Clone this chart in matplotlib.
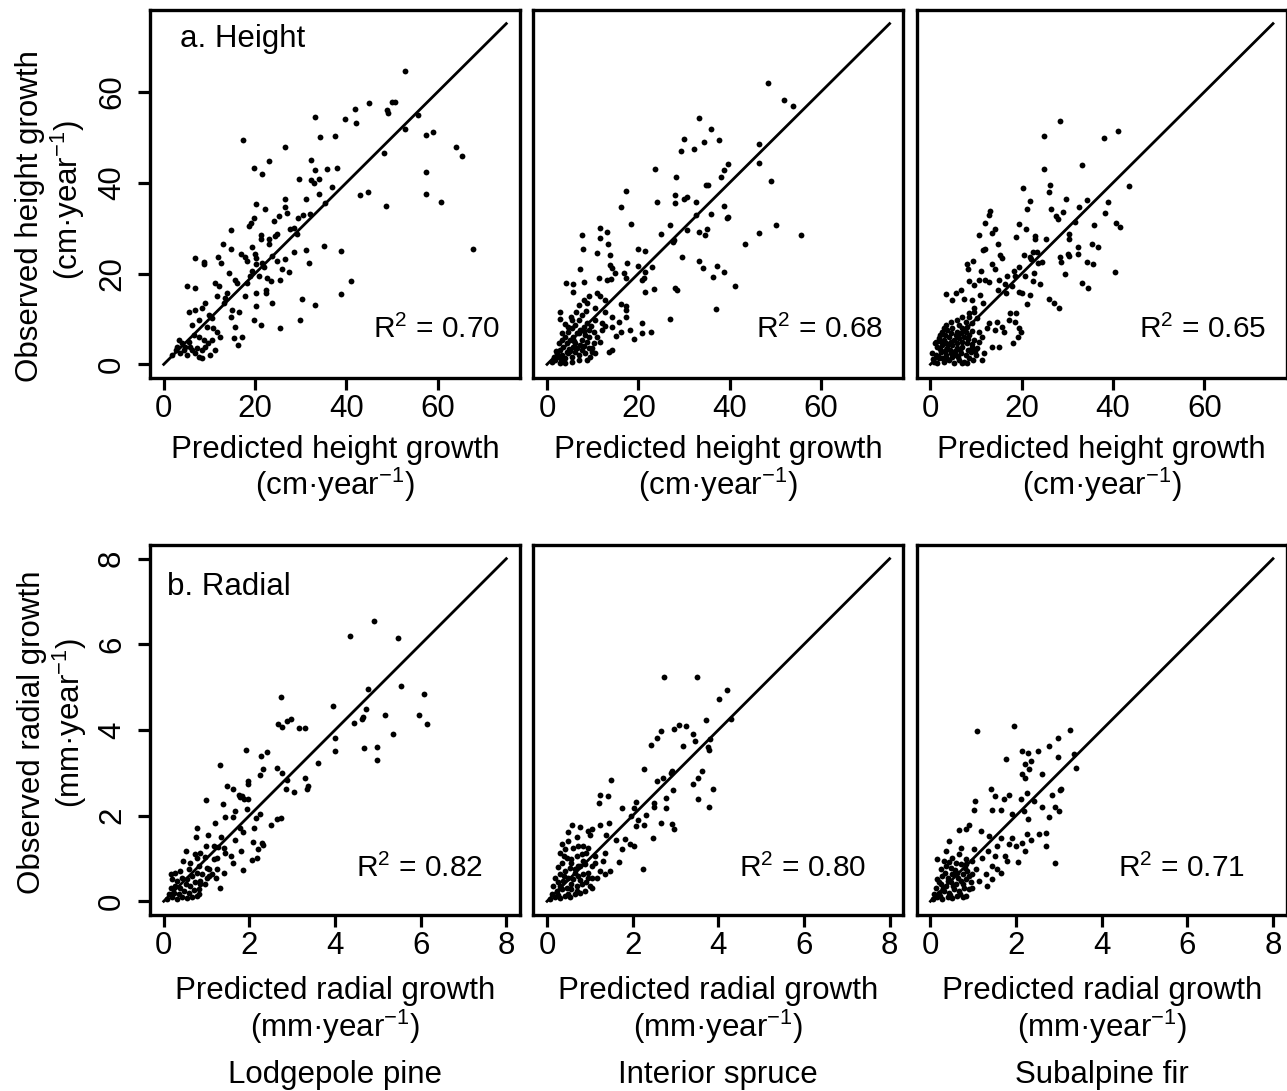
import numpy as np
import matplotlib
matplotlib.use("Agg")
import matplotlib.pyplot as plt

plt.rcParams['font.family'] = ['Liberation Sans', 'DejaVu Sans']
plt.rcParams['mathtext.fontset'] = 'custom'
plt.rcParams['mathtext.rm'] = 'Liberation Sans'
plt.rcParams['mathtext.default'] = 'regular'

species = ['Lodgepole pine', 'Interior spruce', 'Subalpine fir']
r2_height = ['0.70', '0.68', '0.65']
r2_radial = ['0.82', '0.80', '0.71']
height_ticks = [0, 20, 40, 60]
radial_ticks = [0, 2, 4, 6, 8]

# (predicted, observed) height growth, cm/year
pine_height = [
    (52.9, 64.5), (45.0, 57.6), (50.0, 57.8), (50.7, 57.8), (41.8, 56.1), (48.9, 55.9), (49.1, 55.3),
    (33.2, 54.5), (39.6, 53.9), (42.0, 53.1), (55.6, 54.9), (52.9, 51.7), (57.4, 50.5), (58.9, 51.2),
    (34.3, 50.0), (37.4, 50.3), (17.4, 49.4), (26.6, 47.8), (48.3, 46.6), (64.0, 47.8), (65.3, 45.9),
    (23.0, 44.7), (32.3, 45.0), (19.8, 43.3), (21.5, 41.9), (33.2, 42.7), (33.9, 40.9), (32.3, 40.6),
    (32.8, 40.0), (35.8, 43.0), (38.0, 43.3), (29.7, 40.8), (36.9, 39.1), (33.9, 37.4), (42.9, 37.3),
    (44.7, 38.0), (57.4, 42.4), (57.4, 37.5), (60.8, 35.7), (48.7, 34.9), (20.3, 35.4), (22.1, 34.1),
    (26.5, 36.5), (26.6, 34.6), (27.0, 33.4), (31.2, 36.3), (35.4, 35.6), (30.4, 32.8), (29.4, 32.2),
    (32.1, 33.0), (19.7, 32.3), (19.2, 31.2), (18.6, 30.4), (24.2, 31.5), (25.2, 32.6), (27.7, 29.8),
    (28.6, 30.1), (29.2, 28.6), (21.2, 28.4), (21.2, 27.5), (23.0, 27.5), (23.1, 26.6), (24.7, 28.6),
    (24.3, 28.2), (14.7, 29.5), (13.0, 26.4), (14.8, 25.3), (17.0, 24.2), (19.3, 25.9), (19.9, 24.3),
    (20.1, 23.4), (23.7, 23.8), (28.6, 24.7), (31.2, 25.1), (35.2, 26.0), (38.8, 24.9), (6.9, 23.4),
    (8.9, 22.5), (8.9, 22.0), (11.8, 23.7), (12.6, 22.3), (17.9, 23.7), (18.2, 22.7), (20.1, 22.0),
    (21.5, 22.3), (21.9, 21.4), (24.8, 22.7), (26.6, 23.1), (31.9, 22.3), (25.9, 20.9), (27.4, 20.3),
    (14.2, 20.1), (20.8, 19.4), (22.7, 19.0), (23.4, 18.3), (15.7, 18.6), (16.1, 17.9), (19.3, 20.5),
    (19.0, 19.4), (18.2, 17.9), (25.4, 18.5), (40.9, 18.3), (38.8, 15.5), (30.3, 14.4), (33.2, 13.0),
    (29.8, 9.7), (25.5, 7.9), (20.1, 12.9), (21.2, 8.7), (19.7, 9.7), (23.6, 13.5), (22.5, 16.4),
    (22.3, 15.7), (17.9, 15.0), (20.1, 15.7), (67.7, 25.5), (5.0, 17.3), (6.9, 16.8), (11.3, 17.9),
    (12.2, 17.2), (11.7, 15.0), (13.9, 15.7), (13.5, 14.6), (13.1, 13.5), (15.0, 12.0), (14.8, 10.5),
    (15.7, 8.3), (16.4, 11.6), (17.2, 6.1), (15.3, 5.7), (16.3, 4.3), (9.1, 13.5), (8.4, 12.4),
    (9.9, 10.9), (10.6, 10.2), (5.5, 11.6), (6.9, 12.0), (7.7, 9.8), (6.2, 8.7), (9.5, 8.3),
    (10.9, 8.0), (11.7, 7.2), (12.4, 6.1), (10.6, 5.4), (11.3, 3.2), (10.2, 2.1), (8.4, 1.3),
    (3.3, 5.4), (4.0, 4.6), (4.7, 3.9), (5.5, 5.0), (6.2, 3.2), (6.9, 2.4), (7.7, 1.7), (2.6, 3.2),
    (3.6, 2.4), (5.1, 2.1), (6.6, 6.5), (7.7, 6.1), (8.8, 5.4), (9.8, 4.6), (1.8, 2.1), (2.9, 3.9),
    (4.4, 3.2), (5.8, 3.9), (7.3, 3.5), (8.4, 3.2), (9.1, 3.9),
]

spruce_height = [
    (48.4, 62.0), (51.9, 58.1), (53.9, 56.8), (33.3, 54.2), (36.0, 51.7), (30.0, 49.6), (34.3, 48.9),
    (37.6, 49.4), (29.4, 46.9), (32.1, 47.4), (46.5, 48.5), (46.5, 44.4), (39.6, 44.1), (38.7, 42.8),
    (38.2, 41.3), (23.6, 43.1), (28.2, 41.3), (34.9, 39.5), (35.2, 39.5), (49.1, 40.4), (17.2, 38.2),
    (28.0, 37.2), (28.1, 35.6), (29.9, 36.5), (30.7, 36.9), (24.1, 35.7), (32.7, 35.7), (16.3, 34.6),
    (38.8, 34.9), (39.6, 32.5), (39.3, 32.3), (35.9, 33.2), (32.6, 32.8), (18.3, 30.9), (27.0, 30.7),
    (25.0, 28.6), (30.6, 29.6), (33.2, 29.2), (34.5, 28.5), (35.0, 29.8), (27.8, 27.3), (27.6, 27.0),
    (50.1, 30.6), (46.5, 29.0), (55.5, 28.5), (43.4, 26.6), (11.7, 30.1), (13.1, 29.2), (11.7, 27.9),
    (13.4, 26.6), (7.7, 28.4), (7.9, 25.4), (10.9, 24.5), (13.9, 24.0), (13.7, 21.8), (14.2, 21.2),
    (7.3, 21.0), (17.5, 22.3), (19.9, 25.4), (21.5, 24.9), (19.9, 21.7), (23.0, 21.4), (21.5, 20.3),
    (29.6, 23.7), (33.2, 22.7), (34.2, 21.2), (37.2, 21.7), (38.7, 20.3), (36.3, 19.2), (41.1, 17.3),
    (36.9, 12.2), (27.0, 9.9), (28.1, 16.9), (28.5, 16.3), (23.4, 16.6), (21.5, 15.9), (21.2, 19.0),
    (20.8, 18.6), (16.8, 20.1), (17.2, 19.0), (14.9, 20.1), (14.1, 18.8), (13.1, 18.6), (11.3, 19.0),
    (8.0, 18.1), (5.8, 17.8), (4.2, 17.9), (5.8, 15.9), (10.9, 15.8), (11.7, 15.0), (9.3, 15.0),
    (12.8, 14.2), (16.1, 13.3), (17.2, 12.9), (17.2, 11.9), (17.3, 10.5), (20.8, 9.2), (20.8, 7.0),
    (22.7, 7.2), (19.0, 5.5), (18.2, 7.6), (15.1, 6.3), (14.2, 3.2), (13.5, 2.8), (2.9, 11.5),
    (2.9, 9.9), (5.5, 9.8), (6.9, 13.1), (8.0, 14.2), (8.8, 13.5), (10.6, 12.4), (12.8, 11.6),
    (14.2, 10.5), (15.7, 9.4), (12.8, 8.5), (10.6, 9.8), (12.0, 9.1), (14.2, 8.3), (16.1, 7.2),
    (12.0, 7.6), (1.8, 1.0), (2.6, 1.7), (3.3, 2.1), (4.0, 1.3), (4.7, 2.4), (5.5, 1.7), (6.2, 2.8),
    (6.9, 2.1), (7.7, 3.2), (8.4, 2.4), (9.1, 3.5), (9.9, 2.8), (1.1, 0.6), (2.2, 2.4), (2.9, 3.2),
    (3.6, 3.9), (4.4, 4.6), (5.1, 5.4), (5.8, 6.1), (6.6, 6.9), (7.3, 7.6), (8.0, 8.3), (8.8, 9.1),
    (3.3, 5.4), (4.0, 6.1), (4.7, 7.2), (5.5, 8.0), (6.2, 8.7), (6.9, 9.8), (7.7, 10.9), (2.6, 4.6),
    (3.3, 6.9), (4.7, 8.3), (6.2, 4.6), (7.7, 5.4), (9.1, 6.1), (10.2, 4.6), (10.6, 2.4), (9.5, 1.7),
    (8.8, 1.0), (6.9, 1.0), (5.5, 0.6), (4.0, 0.4), (2.9, 0.4), (1.5, 1.7), (4.4, 2.8), (5.8, 3.9),
    (7.3, 4.3), (8.8, 5.0), (10.2, 7.2), (10.9, 6.1), (11.7, 5.0), (9.1, 7.6), (8.4, 6.5),
    (2.0, 3.0), (3.0, 1.2), (4.8, 3.3), (6.0, 5.2), (7.0, 6.8), (8.2, 7.4), (9.6, 8.5), (4.0, 8.9),
    (5.2, 10.5), (6.4, 11.5), (8.5, 11.8), (3.6, 1.0), (5.0, 3.0), (6.6, 3.6), (8.1, 4.0), (9.8, 3.6),
]

fir_height = [
    (28.3, 53.6), (24.9, 50.3), (38.0, 49.9), (41.1, 51.3), (24.9, 43.1), (33.2, 43.8), (43.4, 39.2),
    (20.3, 38.8), (26.1, 39.4), (25.9, 37.9), (21.7, 36.0), (21.2, 34.3), (29.6, 36.3), (29.0, 33.6),
    (27.4, 32.6), (27.9, 31.9), (26.3, 34.1), (32.5, 34.6), (34.3, 36.2), (38.8, 35.7), (38.2, 33.4),
    (31.6, 31.4), (40.7, 31.2), (41.6, 30.3), (35.9, 30.6), (13.1, 33.8), (12.8, 32.8), (11.9, 31.2),
    (19.5, 30.9), (20.9, 29.8), (14.1, 29.8), (13.5, 29.0), (10.7, 28.4), (18.8, 28.1), (22.8, 28.2),
    (22.8, 27.5), (25.4, 27.7), (30.3, 28.6), (30.3, 27.5), (35.4, 26.6), (36.7, 25.9), (32.3, 25.9),
    (14.8, 26.5), (11.9, 25.4), (11.5, 25.1), (15.3, 24.0), (15.6, 23.4), (20.5, 24.0), (22.5, 24.7),
    (23.3, 24.7), (28.3, 23.7), (28.5, 22.5), (30.2, 24.4), (30.3, 23.8), (32.4, 24.2), (21.8, 23.6),
    (22.1, 23.2), (23.6, 22.3), (24.5, 22.5), (34.2, 22.5), (35.5, 22.0), (40.4, 20.4), (29.4, 19.9),
    (33.1, 17.9), (34.5, 16.8), (9.4, 22.7), (8.0, 22.0), (8.2, 21.0), (11.0, 20.5), (13.5, 22.2),
    (14.2, 20.9), (16.8, 19.4), (15.1, 18.5), (16.4, 17.8), (18.2, 20.5), (18.5, 19.5), (19.4, 21.4),
    (20.8, 19.4), (22.6, 20.1), (22.4, 18.3), (24.1, 17.8), (8.5, 18.3), (9.5, 17.5), (10.6, 18.5),
    (11.9, 18.6), (12.8, 18.1), (14.8, 16.4), (16.6, 15.8), (17.9, 17.2), (19.3, 16.0), (20.1, 15.7),
    (21.9, 15.3), (21.1, 13.3), (25.9, 14.4), (27.0, 13.5), (28.1, 12.4), (3.4, 15.5), (5.5, 15.6),
    (6.6, 16.4), (4.8, 14.2), (7.3, 14.4), (9.1, 14.2), (10.9, 15.3), (11.5, 13.5), (17.5, 11.3),
    (18.8, 11.3), (17.3, 9.8), (14.6, 9.4), (15.7, 8.3), (14.2, 7.6), (16.1, 7.2), (18.6, 9.4),
    (19.3, 8.0), (19.9, 7.2), (19.2, 6.1), (13.5, 3.9), (15.1, 3.9), (18.0, 4.6), (10.6, 7.2),
    (11.3, 6.1), (12.4, 8.0), (12.8, 9.1), (9.5, 12.4), (8.4, 11.3), (10.2, 10.2), (7.7, 9.4),
    (0.8, 0.6), (1.9, 1.3), (3.0, 0.6), (4.1, 1.0), (5.2, 0.4), (6.3, 1.0), (7.4, 0.6), (8.5, 1.3),
    (7.0, 0.2), (1.2, 2.1), (2.3, 2.8), (3.4, 2.1), (4.5, 2.4), (5.5, 2.1), (6.6, 2.4), (7.7, 2.1),
    (8.8, 2.8), (9.9, 2.1), (1.5, 3.9), (2.6, 4.3), (3.7, 3.5), (4.8, 4.3), (5.9, 3.5), (7.0, 3.9),
    (8.1, 4.6), (9.2, 3.9), (10.3, 3.5), (1.9, 5.7), (3.0, 5.4), (4.1, 6.1), (5.2, 5.4), (6.3, 5.7),
    (7.4, 6.1), (8.5, 6.5), (9.6, 5.4), (10.7, 5.0), (2.6, 7.2), (3.7, 7.6), (4.8, 8.0), (5.9, 7.2),
    (7.0, 8.0), (8.1, 8.3), (9.2, 9.1), (4.5, 9.4), (5.9, 9.8), (7.0, 10.5), (8.5, 10.5), (9.6, 11.6),
    (3.4, 8.7), (11.8, 2.4), (11.4, 1.0), (0.4, 2.4), (1.2, 5.0),
    (0.5, 1.2), (1.4, 0.3), (2.5, 1.5), (3.6, 1.2), (4.7, 1.6), (6.0, 1.6), (8.0, 0.4), (9.3, 1.0),
    (2.0, 3.3), (3.2, 3.0), (4.2, 3.2), (5.3, 3.0), (6.4, 3.1), (8.3, 3.2), (9.7, 3.0), (1.0, 4.6),
    (2.2, 5.1), (3.5, 4.7), (4.6, 5.0), (5.8, 4.6), (7.0, 5.0), (8.2, 5.5), (9.0, 4.5), (2.0, 6.4),
    (3.3, 6.5), (4.4, 7.0), (5.6, 6.5), (6.8, 6.8), (7.8, 7.2), (9.0, 7.3), (3.0, 8.0), (6.3, 8.6),
]

# (predicted, observed) radial growth, mm/year
pine_radial = [
    (4.92, 6.55), (4.36, 6.19), (5.48, 6.16), (4.76, 4.96), (5.54, 5.02), (6.08, 4.83), (2.75, 4.76),
    (3.95, 4.56), (4.72, 4.49), (4.66, 4.31), (4.62, 4.26), (4.44, 4.16), (5.17, 4.34), (5.97, 4.36),
    (6.14, 4.13), (5.35, 3.91), (2.68, 4.14), (2.77, 4.08), (2.88, 4.22), (2.97, 4.26), (3.17, 4.04),
    (3.29, 4.04), (3.99, 3.82), (4.00, 3.52), (4.67, 3.57), (4.99, 3.60), (4.97, 3.31), (3.60, 3.22),
    (1.92, 3.53), (2.27, 3.40), (2.42, 3.49), (1.31, 3.19), (2.32, 3.08), (2.64, 3.12), (2.76, 3.00),
    (2.24, 2.94), (2.88, 2.83), (2.86, 2.63), (3.05, 2.56), (3.29, 2.87), (3.38, 2.69), (3.34, 2.63),
    (1.48, 2.70), (1.61, 2.63), (1.98, 2.81), (1.97, 2.75), (1.76, 2.48), (1.83, 2.46), (1.87, 2.38),
    (1.79, 2.43), (1.98, 2.40), (1.94, 2.16), (1.38, 2.28), (0.99, 2.36), (1.66, 2.12), (1.62, 1.98),
    (1.42, 1.97), (2.25, 2.04), (2.15, 1.95), (2.64, 1.93), (2.74, 1.95), (2.51, 1.79), (1.19, 1.83),
    (1.79, 1.70), (1.84, 1.62), (2.10, 1.70), (0.78, 1.72), (0.76, 1.51), (1.03, 1.54), (1.34, 1.51),
    (1.67, 1.43), (2.08, 1.38), (2.29, 1.37), (2.33, 1.31), (0.99, 1.29), (1.17, 1.29), (1.27, 1.27),
    (1.40, 1.25), (1.44, 1.13), (0.51, 1.17), (0.72, 1.10), (0.84, 1.13), (1.58, 1.06), (1.80, 1.17),
    (2.21, 1.21), (2.19, 1.00), (2.06, 0.96), (0.44, 0.94), (0.62, 0.90), (0.78, 1.02), (0.97, 1.03),
    (1.17, 0.98), (1.24, 1.02), (1.62, 0.89), (1.01, 0.77), (1.06, 0.75), (1.24, 0.75), (1.40, 0.67),
    (1.86, 0.72), (1.23, 0.54), (1.32, 0.32), (0.85, 0.40), (0.82, 0.16),
    (0.08, 0.05), (0.19, 0.09), (0.31, 0.05), (0.43, 0.10), (0.54, 0.07), (0.66, 0.09), (0.78, 0.12),
    (0.12, 0.16), (0.23, 0.20), (0.35, 0.18), (0.47, 0.24), (0.58, 0.20), (0.70, 0.26), (0.82, 0.28),
    (0.16, 0.32), (0.27, 0.36), (0.39, 0.32), (0.51, 0.40), (0.62, 0.36), (0.74, 0.44), (0.85, 0.47),
    (0.97, 0.40), (0.19, 0.51), (0.31, 0.47), (0.43, 0.55), (0.54, 0.51), (0.66, 0.59), (0.78, 0.67),
    (0.89, 0.63), (1.01, 0.55), (1.13, 0.63), (0.27, 0.67), (0.39, 0.71), (0.16, 0.63), (0.58, 0.75),
    (0.82, 0.82), (1.05, 0.59),
]

spruce_radial = [
    (2.73, 5.24), (3.51, 5.24), (4.21, 4.94), (4.01, 4.73), (3.72, 4.24), (4.30, 4.26), (3.08, 4.11),
    (3.24, 4.09), (2.96, 4.03), (3.40, 3.91), (2.67, 3.97), (2.44, 3.66), (2.58, 3.81), (3.18, 3.62),
    (3.45, 3.75), (3.80, 3.80), (3.76, 3.60), (3.78, 3.54), (2.27, 3.09), (2.93, 3.05), (2.89, 3.00),
    (2.56, 2.82), (2.70, 2.88), (3.61, 3.05), (3.53, 2.87), (3.41, 2.74), (3.88, 2.63), (1.49, 2.84),
    (2.94, 2.59), (2.79, 2.42), (3.53, 2.39), (3.78, 2.21), (1.24, 2.49), (1.43, 2.46), (1.22, 2.30),
    (2.07, 2.32), (2.03, 2.18), (1.74, 2.17), (2.49, 2.30), (2.50, 2.20), (2.32, 2.01), (2.26, 1.79),
    (2.07, 1.76), (2.66, 1.83), (2.91, 1.81), (2.96, 1.68), (2.79, 2.17), (1.96, 1.99), (2.13, 1.91),
    (1.45, 1.83), (1.24, 1.79), (1.04, 1.68), (0.95, 1.64), (1.00, 1.55), (0.58, 1.79), (0.48, 1.62),
    (0.78, 1.73), (1.38, 1.54), (1.62, 1.43), (1.82, 1.45), (1.74, 1.21), (1.93, 1.33), (2.03, 1.29),
    (2.48, 1.48), (0.34, 1.33), (0.69, 1.50), (0.85, 1.29), (0.95, 1.25), (2.25, 0.76), (1.68, 0.92),
    (1.35, 1.13), (1.31, 0.94), (1.24, 0.71), (1.35, 0.63), (1.00, 0.36), (1.12, 1.06), (1.47, 0.71),
    (1.04, 0.55),
    (0.07, 0.05), (0.19, 0.10), (0.30, 0.07), (0.42, 0.12), (0.54, 0.09), (0.65, 0.16), (0.77, 0.20),
    (0.89, 0.24), (0.11, 0.18), (0.23, 0.24), (0.34, 0.28), (0.46, 0.32), (0.57, 0.28), (0.69, 0.36),
    (0.81, 0.40), (0.92, 0.44), (0.15, 0.36), (0.26, 0.44), (0.38, 0.47), (0.50, 0.55), (0.61, 0.51),
    (0.73, 0.59), (0.85, 0.63), (0.96, 0.67), (0.19, 0.55), (0.30, 0.63), (0.42, 0.71), (0.54, 0.78),
    (0.65, 0.75), (0.77, 0.82), (0.89, 0.86), (1.04, 0.82), (0.34, 0.90), (0.46, 1.02), (0.57, 0.98),
    (0.69, 1.06), (0.81, 1.10), (0.92, 1.13), (0.42, 1.21), (0.61, 1.25), (0.73, 1.29), (0.30, 1.13),
    (0.50, 1.41), (0.73, 0.82), (1.12, 0.90), (1.16, 0.55), (1.04, 0.32),
    (0.25, 0.15), (0.48, 0.18), (0.70, 0.25), (0.30, 0.35), (0.55, 0.40), (0.78, 0.50), (0.40, 0.60),
    (0.65, 0.65), (0.95, 0.55), (0.25, 0.80), (0.55, 0.90), (0.85, 0.95), (0.40, 1.05),
]

fir_radial = [
    (1.08, 3.97), (1.95, 4.09), (3.27, 4.01), (2.99, 3.82), (2.77, 3.62), (3.35, 3.45), (3.39, 3.12),
    (2.99, 3.36), (2.13, 3.50), (2.28, 3.47), (2.52, 3.52), (1.76, 3.33), (2.22, 3.21), (2.34, 3.27),
    (2.30, 3.08), (2.14, 2.98), (2.22, 2.88), (2.61, 2.98), (1.42, 2.63), (1.52, 2.46), (1.83, 2.48),
    (1.72, 2.38), (2.11, 2.40), (2.26, 2.52), (2.42, 2.35), (2.83, 2.48), (3.05, 2.63), (3.02, 2.61),
    (2.91, 2.21), (3.00, 2.11), (2.77, 1.97), (2.61, 2.21), (1.04, 2.34), (1.02, 2.14), (1.45, 2.14),
    (1.64, 2.13), (1.90, 2.03), (2.28, 1.93), (2.18, 2.12), (0.90, 1.77), (0.67, 1.66), (0.82, 1.68),
    (1.17, 1.64), (1.37, 1.52), (1.64, 1.48), (1.56, 1.29), (1.83, 1.33), (1.99, 1.29), (2.14, 1.37),
    (1.90, 1.48), (2.26, 1.56), (2.36, 1.42), (2.53, 1.56), (2.69, 1.59), (2.69, 1.29), (2.22, 1.17),
    (1.35, 1.17), (1.52, 1.06), (1.74, 1.06), (1.79, 0.94), (2.05, 0.92), (2.91, 0.89), (0.44, 1.41),
    (0.71, 1.25), (1.02, 1.21), (1.21, 1.02), (1.45, 0.82), (1.56, 0.75), (1.66, 0.67), (1.29, 0.63),
    (1.45, 0.51), (1.33, 0.36), (0.82, 0.12), (1.13, 0.47), (0.98, 0.32), (1.06, 0.75), (0.82, 0.86),
    (0.16, 0.98), (0.36, 1.17),
    (0.05, 0.05), (0.16, 0.09), (0.28, 0.05), (0.40, 0.10), (0.51, 0.07), (0.63, 0.12), (0.75, 0.09),
    (0.09, 0.18), (0.20, 0.20), (0.32, 0.24), (0.44, 0.20), (0.55, 0.28), (0.67, 0.24), (0.78, 0.32),
    (0.90, 0.28), (0.12, 0.32), (0.24, 0.40), (0.36, 0.36), (0.47, 0.44), (0.59, 0.40), (0.71, 0.47),
    (0.82, 0.51), (0.94, 0.44), (0.16, 0.51), (0.28, 0.59), (0.40, 0.55), (0.51, 0.63), (0.63, 0.67),
    (0.75, 0.63), (0.86, 0.71), (0.98, 0.63), (0.24, 0.75), (0.36, 0.82), (0.47, 0.78), (0.59, 0.90),
    (0.71, 0.86), (0.82, 0.98), (0.51, 1.02), (0.67, 1.10), (0.32, 0.94), (0.98, 0.94),
    (0.22, 0.12), (0.45, 0.15), (0.68, 0.18), (0.30, 0.30), (0.52, 0.35), (0.76, 0.40), (0.20, 0.45),
    (0.42, 0.48), (0.65, 0.55), (0.90, 0.58), (0.35, 0.66), (0.58, 0.74), (0.80, 0.78), (0.44, 0.92),
]

W, H = 1287, 1091
col_left = [150, 533.3, 916.7]  # pixel positions of the left spines
box_w = 370
FS = 22.5


def panel(fig, col, top_px, bottom_px, pts, lim, ticks, r2, r2_x, r2_y, yaxis):
    ax = fig.add_axes([col_left[col] / W, 1 - bottom_px / H, box_w / W, (bottom_px - top_px) / H])
    pts = np.array(pts)
    ax.plot([0, lim], [0, lim], color='black', lw=2.0)
    ax.plot(pts[:, 0], pts[:, 1], 'o', color='black', ms=4.2, mew=0)
    ext = lim * 0.04
    ax.set_xlim(-ext, lim + ext)
    ax.set_ylim(-ext, lim + ext)
    ax.set_xticks(ticks)
    for s in ax.spines.values():
        s.set_linewidth(2.4)
    ax.tick_params(axis='x', length=8.6, width=2.3, labelsize=FS, pad=3)
    if yaxis:
        ax.set_yticks(ticks)
        ax.tick_params(axis='y', length=8.6, width=2.3, labelsize=FS, pad=8, labelrotation=90)
        for lab in ax.get_yticklabels():
            lab.set_va('center')
    else:
        ax.set_yticks([])
    ax.text(r2_x, r2_y, 'R$^{2}$ = ' + r2, transform=ax.transAxes,
            ha='right', va='baseline', fontsize=21.5)
    return ax


fig = plt.figure(figsize=(W / 100, H / 100), dpi=100)

height_data = [pine_height, spruce_height, fir_height]
radial_data = [pine_radial, spruce_radial, fir_radial]
r2x_radial = [0.9, 0.9, 0.887]

for i in range(3):
    ax = panel(fig, i, 10, 378, height_data[i], 75, height_ticks, r2_height[i], 0.946, 0.109, i == 0)
    if i == 0:
        ax.text(0.081, 0.899, 'a. Height', transform=ax.transAxes, fontsize=FS, va='baseline')
    ax = panel(fig, i, 545, 915, radial_data[i], 8, radial_ticks, r2_radial[i], r2x_radial[i], 0.102, i == 0)
    if i == 0:
        ax.text(0.046, 0.866, 'b. Radial', transform=ax.transAxes, fontsize=FS, va='baseline')

    cx = (col_left[i] + box_w / 2) / W
    fig.text(cx, 1 - 458 / H, 'Predicted height growth', ha='center', va='baseline', fontsize=FS)
    fig.text(cx, 1 - 495 / H, '(cm·year$^{-1}$)', ha='center', va='baseline', fontsize=FS)
    fig.text(cx, 1 - 999 / H, 'Predicted radial growth', ha='center', va='baseline', fontsize=FS)
    fig.text(cx, 1 - 1037 / H, '(mm·year$^{-1}$)', ha='center', va='baseline', fontsize=FS)
    fig.text(cx, 1 - 1083 / H, species[i], ha='center', va='baseline', fontsize=FS)

fig.text(30 / W, 1 - 216 / H, 'Observed height growth', rotation=90, ha='center', va='center', fontsize=FS)
fig.text(68 / W, 1 - 200 / H, '(cm·year$^{-1}$)', rotation=90, ha='center', va='center', fontsize=FS)
fig.text(32 / W, 1 - 732 / H, 'Observed radial growth', rotation=90, ha='center', va='center', fontsize=FS)
fig.text(70 / W, 1 - 723 / H, '(mm·year$^{-1}$)', rotation=90, ha='center', va='center', fontsize=FS)

fig.savefig('out.png', dpi=100)
